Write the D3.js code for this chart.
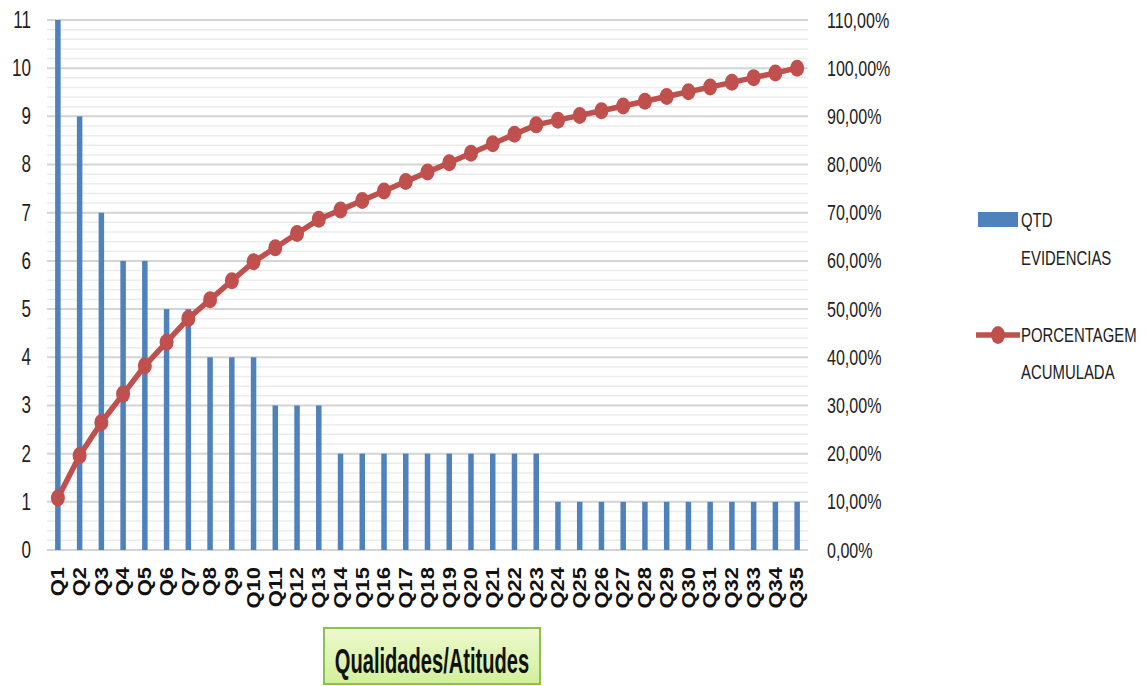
<!DOCTYPE html>
<html>
<head>
<meta charset="utf-8">
<script src="https://cdn.jsdelivr.net/npm/d3@7"></script>
<style>
  body { margin: 0; background: #fff; }
  text { font-family: "Liberation Sans", Arial, sans-serif; }
</style>
</head>
<body>
<script>
var categories = ["Q1","Q2","Q3","Q4","Q5","Q6","Q7","Q8","Q9","Q10","Q11","Q12","Q13","Q14","Q15","Q16","Q17","Q18",
  "Q19","Q20","Q21","Q22","Q23","Q24","Q25","Q26","Q27","Q28","Q29","Q30","Q31","Q32","Q33","Q34","Q35"];
var counts = [11,9,7,6,6,5,5,4,4,4,3,3,3,2,2,2,2,2,2,2,2,2,2,1,1,1,1,1,1,1,1,1,1,1,1];
var leftTicks = [0,1,2,3,4,5,6,7,8,9,10,11];
var rightTicks = [0,0.1,0.2,0.3,0.4,0.5,0.6,0.7,0.8,0.9,1.0,1.1];
var legendLabels = [["QTD","EVIDENCIAS"],["PORCENTAGEM","ACUMULADA"]];
var axisTitle = "Qualidades/Atitudes";

var total = d3.sum(counts);
var cumulative = [];
counts.reduce(function(acc, v) { cumulative.push((acc + v) / total); return acc + v; }, 0);

var W = 1147, H = 686;
var margin = {top: 20, left: 47, right: 339, bottom: 136};
var width = W - margin.left - margin.right,
    height = H - margin.top - margin.bottom;

// squeeze text horizontally, the source font is a condensed one
function squeeze(sel, k) {
  sel.each(function() {
    var len = this.getComputedTextLength();
    d3.select(this).attr("textLength", len * k).attr("lengthAdjust", "spacingAndGlyphs");
  });
}

var svg = d3.select("body").append("svg")
    .attr("width", W)
    .attr("height", H);

var g = svg.append("g")
    .attr("transform", "translate(" + margin.left + "," + margin.top + ")");

var x = d3.scaleBand().domain(categories).range([0, width]);
var y = d3.scaleLinear().domain([0, 11]).range([height, 0]);
var y2 = d3.scaleLinear().domain([0, 1.1]).range([height, 0]);

// minor grid
var minor = d3.range(0, 11.001, 0.2).map(function(d) { return Math.round(d * 10) / 10; })
  .filter(function(d) { return Math.abs(d - Math.round(d)) > 0.01; });
g.selectAll(".minor").data(minor).enter().append("line")
    .attr("x1", 0).attr("x2", width)
    .attr("y1", function(d) { return y(d); }).attr("y2", function(d) { return y(d); })
    .attr("stroke", "#ececec").attr("stroke-width", 1.5);

// major grid
g.selectAll(".major").data(leftTicks).enter().append("line")
    .attr("x1", 0).attr("x2", width)
    .attr("y1", function(d) { return y(d); }).attr("y2", function(d) { return y(d); })
    .attr("stroke", "#d4d4d4").attr("stroke-width", 2);

// bars
var bw = 5.5;
g.selectAll(".bar").data(counts).enter().append("rect")
    .attr("x", function(d, i) { return x(categories[i]) + x.bandwidth() / 2 - bw / 2; })
    .attr("y", function(d) { return y(d); })
    .attr("width", bw)
    .attr("height", function(d) { return y(0) - y(d); })
    .attr("fill", "#4f81bd");

// left axis
var yAxis = d3.axisLeft(y).tickValues(leftTicks).tickSize(0).tickPadding(16);
var ya = g.append("g").call(yAxis);
ya.select(".domain").remove();
ya.selectAll("text").attr("font-size", 23).attr("fill", "#222")
  .style("font-family", "'Liberation Sans', sans-serif");
squeeze(ya.selectAll("text"), 0.74);

// right axis
var fmt = function(d) { return (d * 100).toFixed(2).replace(".", ",") + "%"; };
var yAxis2 = d3.axisRight(y2).tickValues(rightTicks).tickFormat(fmt).tickSize(0).tickPadding(19);
var ya2 = g.append("g").attr("transform", "translate(" + width + ",0)").call(yAxis2);
ya2.select(".domain").remove();
ya2.selectAll("text").attr("font-size", 22).attr("fill", "#222")
  .style("font-family", "'Liberation Sans', sans-serif");
squeeze(ya2.selectAll("text"), 0.73);

// x axis labels, rotated and stretched along their length
var xa = g.append("g").attr("transform", "translate(0," + height + ")")
    .call(d3.axisBottom(x).tickSize(0));
xa.select(".domain").remove();
xa.selectAll("text")
    .attr("transform", "rotate(-90)")
    .attr("x", -17).attr("y", 0).attr("dy", "0.35em")
    .attr("text-anchor", "end")
    .attr("font-size", 18).attr("font-weight", "bold").attr("fill", "#111")
    .style("font-family", "'Liberation Sans', Arial, sans-serif");
squeeze(xa.selectAll("text"), 1.22);

// cumulative line
var line = d3.line()
    .x(function(d, i) { return x(categories[i]) + x.bandwidth() / 2; })
    .y(function(d) { return y2(d); });
g.append("path").datum(cumulative)
    .attr("d", line)
    .attr("fill", "none").attr("stroke", "#c0504d").attr("stroke-width", 5.5);
g.selectAll(".pt").data(cumulative).enter().append("ellipse")
    .attr("cx", function(d, i) { return x(categories[i]) + x.bandwidth() / 2; })
    .attr("cy", function(d) { return y2(d); })
    .attr("rx", 7).attr("ry", 8.5)
    .attr("fill", "#c0504d");

// axis title box
var grad = svg.append("defs").append("linearGradient").attr("id", "gbox")
    .attr("x1", 0).attr("y1", 0).attr("x2", 0).attr("y2", 1);
grad.append("stop").attr("offset", "0%").attr("stop-color", "#edf9cf");
grad.append("stop").attr("offset", "100%").attr("stop-color", "#d3ef9a");
svg.append("rect").attr("x", 324).attr("y", 628).attr("width", 216).attr("height", 56)
    .attr("fill", "url(#gbox)").attr("stroke", "#8cc150").attr("stroke-width", 2);
svg.append("text")
    .attr("transform", "translate(432,673) scale(0.575,1)")
    .attr("text-anchor", "middle")
    .attr("font-size", 35).attr("font-weight", "bold").attr("fill", "#111")
    .text(axisTitle);

// legend
var lg = svg.append("g");
lg.append("rect").attr("x", 978).attr("y", 212).attr("width", 40).attr("height", 15).attr("fill", "#4f81bd");
lg.append("line").attr("x1", 976).attr("x2", 1020).attr("y1", 335).attr("y2", 335)
    .attr("stroke", "#c0504d").attr("stroke-width", 5.5);
lg.append("ellipse").attr("cx", 998).attr("cy", 335).attr("rx", 7).attr("ry", 9).attr("fill", "#c0504d");
var legY = [[220, 258], [335, 372]];
legendLabels.forEach(function(lab, i) {
  lab.forEach(function(t, j) {
    lg.append("text")
      .attr("transform", "translate(1021," + legY[i][j] + ") scale(0.71,1)")
      .attr("dy", "0.35em")
      .attr("font-size", 21).attr("fill", "#222")
      .text(t);
  });
});
</script>
</body>
</html>
